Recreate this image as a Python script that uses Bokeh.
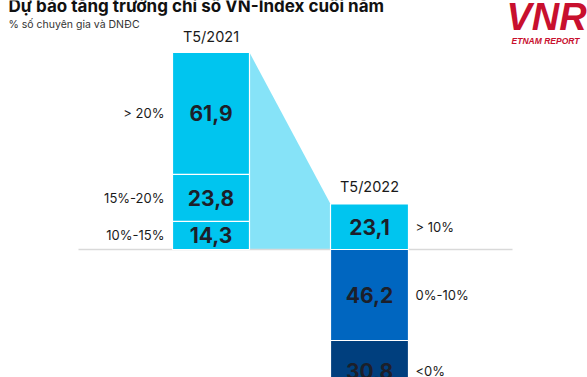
from bokeh.plotting import figure
from bokeh.models import ColumnDataSource
from bokeh.embed import file_html
from bokeh.resources import INLINE
from bokeh.core.properties import value

# ---- data ----
title_text = "Dự báo tăng trưởng chỉ số VN-Index cuối năm"
subtitle_text = "% số chuyên gia và DNĐC"
periods = ["T5/2021", "T5/2022"]
cats_2021 = ["10%-15%", "15%-20%", "> 20%"]      # bottom -> top
vals_2021 = [14.3, 23.8, 61.9]
cats_2022 = ["> 10%", "0%-10%", "<0%"]           # top -> bottom
vals_2022 = [23.1, 46.2, 30.8]

# ---- layout ----
W, H = 587, 377
PXU = 1.97          # pixels per percentage point
BASE = 249          # pixel row of zero line


def yd(py):
    return (BASE - py) / PXU


def fmt(v):
    return f"{v:.1f}".replace(".", ",")


p = figure(width=W, height=H, x_range=(0, W), y_range=(yd(H), yd(0)),
           output_backend="svg", toolbar_location=None, min_border=0,
           x_axis_type=None, y_axis_type=None, outline_line_color=None)
p.background_fill_color = "white"

FONT = value("Inter")
cyan = "#00c5ef"
light = "#86e3f8"
mid = "#0066c0"
navy = "#003f7e"

L_LEFT, L_RIGHT = 172, 249
R_LEFT, R_RIGHT = 330, 408

# 2021 stack
b21, t21 = [], []
acc = 0.0
for v in vals_2021:
    b21.append(acc)
    acc += v
    t21.append(acc)

# 2022 stack: first segment above zero, rest below
t22, b22 = [], []
acc = vals_2022[0]
for v in vals_2022:
    t22.append(acc)
    acc -= v
    b22.append(acc)

# connector
p.patch([L_RIGHT, R_LEFT, R_LEFT, L_RIGHT], [t21[-1], t22[0], 0, 0],
        fill_color=light, line_color=None)

# zero line
p.line([78, 512], [0, 0], line_color="#d9d9d9", line_width=1.5)

src21 = ColumnDataSource(dict(left=[L_LEFT] * 3, right=[L_RIGHT] * 3, bottom=b21, top=t21,
                              color=[cyan] * 3,
                              ymid=[(a + b) / 2 for a, b in zip(b21, t21)],
                              xmid=[(L_LEFT + L_RIGHT) / 2] * 3,
                              xl=[164] * 3,
                              lab=[fmt(v) for v in vals_2021], cat=cats_2021))
src22 = ColumnDataSource(dict(left=[R_LEFT] * 3, right=[R_RIGHT] * 3, bottom=b22, top=t22,
                              color=[cyan, mid, navy],
                              ymid=[(a + b) / 2 for a, b in zip(b22, t22)],
                              xmid=[(R_LEFT + R_RIGHT) / 2] * 3,
                              xl=[415] * 3,
                              lab=[fmt(v) for v in vals_2022], cat=cats_2022))

for s in (src21, src22):
    p.quad(left="left", right="right", bottom="bottom", top="top", source=s,
           fill_color="color", line_color="white", line_width=1.2)
    p.text(x="xmid", y="ymid", text="lab", source=s, text_font=FONT,
           text_font_style="bold", text_font_size="21px", text_color="#1c1f2a",
           text_align="center", text_baseline="middle")

p.text(x="xl", y="ymid", text="cat", source=src21, text_font=FONT,
       text_font_size="13px", text_color="#1a1a1a",
       text_align="right", text_baseline="middle")
p.text(x="xl", y="ymid", text="cat", source=src22, text_font=FONT,
       text_font_size="13px", text_color="#1a1a1a",
       text_align="left", text_baseline="middle")

# period labels
p.text(x=[(L_LEFT + L_RIGHT) / 2, (R_LEFT + R_RIGHT) / 2],
       y=[t21[-1] + yd(36) - yd(52), t22[0] + yd(187) - yd(204)],
       text=periods, text_font=FONT, text_font_size="14.5px", text_color="#1a1a1a",
       text_align="center", text_baseline="middle")

# title & subtitle
p.text(x=[8], y=[yd(5)], text=[title_text], text_font=FONT, text_font_style="bold",
       text_font_size="17px", text_color="#111111", text_align="left",
       text_baseline="alphabetic")
p.text(x=[8], y=[yd(24)], text=[subtitle_text], text_font=FONT,
       text_font_size="10.5px", text_color="#333333", text_align="left",
       text_baseline="middle")

# logo
p.text(x=[506], y=[yd(16)], text=["VNR"], text_font=value("Liberation Sans"),
       text_font_style="bold italic", text_font_size="38px", text_color="#c8102e",
       text_align="left", text_baseline="alphabetic")
p.text(x=[545], y=[yd(40)], text=["ETNAM REPORT"], text_font=value("Liberation Sans"),
       text_font_style="bold italic", text_font_size="8.5px", text_color="#c8102e",
       text_align="center", text_baseline="middle")

open("out.html", "w").write(file_html(p, INLINE))
